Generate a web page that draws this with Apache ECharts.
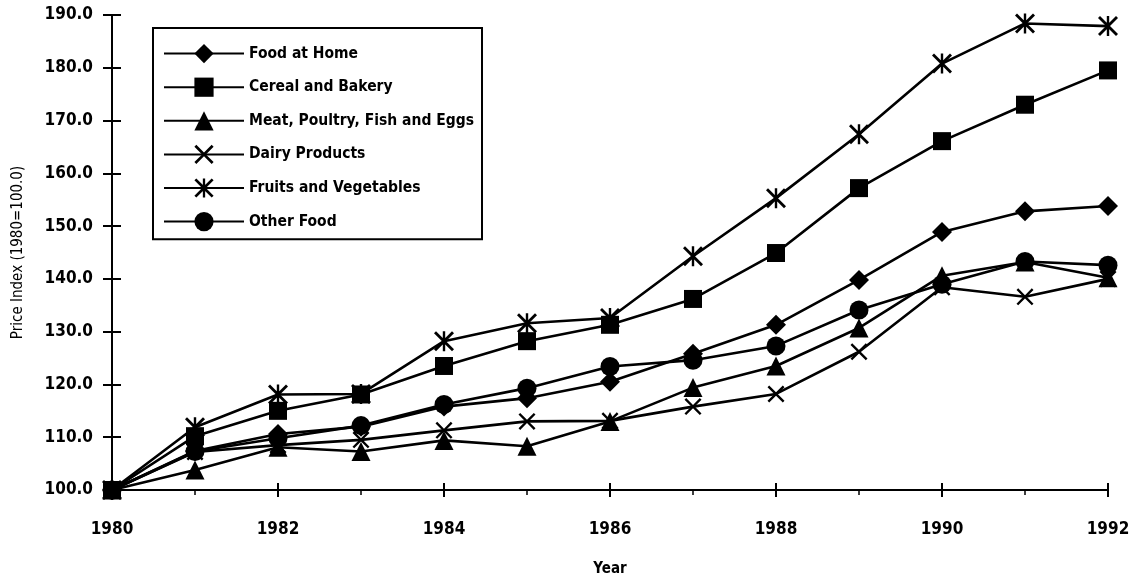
<!DOCTYPE html>
<html><head><meta charset="utf-8">
<script src="https://cdn.jsdelivr.net/npm/echarts@6/dist/echarts.min.js"></script>
<style>html,body{margin:0;padding:0;background:#fff}#c{width:1136px;height:582px}</style>
</head><body><div id="c"></div>
<script>
const years = [1980,1981,1982,1983,1984,1985,1986,1987,1988,1989,1990,1991,1992];
const seriesNames = ['Food at Home','Cereal and Bakery','Meat, Poultry, Fish and Eggs','Dairy Products','Fruits and Vegetables','Other Food'];
const foodAtHome = [100,107.4,110.6,112.0,115.8,117.4,120.5,125.8,131.3,139.8,148.9,152.8,153.8];
const cerealBakery = [100,110.2,115.0,118.1,123.5,128.2,131.3,136.2,144.9,157.2,166.1,173.0,179.5];
const meatPoultry = [100,103.8,108.1,107.3,109.4,108.3,113.0,119.4,123.5,130.7,140.6,143.2,140.2];
const dairy = [100,107.2,108.5,109.5,111.3,113.0,113.1,115.8,118.2,126.2,138.4,136.6,140.0];
const fruitsVeg = [100,111.9,118.1,118.2,128.2,131.6,132.6,144.3,155.3,167.4,180.8,188.4,187.9];
const otherFood = [100,107.3,109.8,112.2,116.2,119.3,123.4,124.6,127.3,134.1,139.0,143.3,142.6];

const FONT = "'DejaVu Sans Condensed','Liberation Sans Narrow',sans-serif";
const X_SYMBOL = 'path://M0,1L1,0L5,4L9,0L10,1L6,5L10,9L9,10L5,6L1,10L0,9L4,5Z';
const STAR_SYMBOL = 'path://M0,1L1,0L5,4L9,0L10,1L6,5L10,9L9,10L5,6L1,10L0,9L4,5Z M4.4,0L5.6,0L5.6,10L4.4,10Z';

function mk(name, vals, symbol, size) {
  return {
    name: name, type: 'line',
    data: years.map((y, i) => [y, vals[i]]),
    symbol: symbol, symbolSize: size, showSymbol: true,
    lineStyle: {color: '#000', width: 2.6},
    itemStyle: {color: '#000'},
    emphasis: {disabled: true},
    animation: false
  };
}

const chart = echarts.init(document.getElementById('c'));
const axisTextStyle = {color: '#000', fontFamily: FONT, fontWeight: 'bold', fontSize: 17};
chart.setOption({
  animation: false,
  backgroundColor: '#fff',
  grid: {left: 112, right: 28, top: 15, bottom: 90},
  legend: {
    orient: 'vertical', left: 153, top: 28,
    data: seriesNames,
    padding: [16, 8, 8, 10],
    itemWidth: 80, itemHeight: 24, itemGap: 14.4,
    borderColor: '#000', borderWidth: 2,
    textStyle: {color: '#000', fontFamily: FONT, fontWeight: 'bold', fontSize: 15.5}
  },
  xAxis: [{
    type: 'value', min: 1980, max: 1992, interval: 2,
    axisLine: {show: true, lineStyle: {color: '#000', width: 2}},
    axisTick: {show: true, length: 7, lineStyle: {color: '#000', width: 2}},
    minorTick: {show: true, splitNumber: 2, length: 5, lineStyle: {color: '#000', width: 1.5}},
    splitLine: {show: false},
    axisLabel: Object.assign({margin: 31, formatter: v => String(v)}, axisTextStyle),
    name: 'Year', nameLocation: 'middle', nameGap: 72,
    nameTextStyle: Object.assign({}, axisTextStyle, {fontSize: 15})
  }, {
    type: 'value', min: 1980, max: 1992, interval: 2, position: 'bottom',
    axisLine: {show: false},
    axisTick: {show: true, inside: true, length: 7, lineStyle: {color: '#000', width: 2}},
    axisLabel: {show: false}, splitLine: {show: false}
  }],
  yAxis: [{
    type: 'value', min: 100, max: 190, interval: 10,
    axisLine: {show: true, lineStyle: {color: '#000', width: 2}},
    axisTick: {show: true, length: 9, lineStyle: {color: '#000', width: 2}},
    splitLine: {show: false},
    axisLabel: Object.assign({margin: 19, formatter: v => v.toFixed(1)}, axisTextStyle),
    name: 'Price Index (1980=100.0)', nameLocation: 'middle', nameGap: 86,
    nameTextStyle: {color: '#000', fontFamily: FONT, fontSize: 15}
  }, {
    type: 'value', min: 100, max: 190, interval: 10, position: 'left',
    axisLine: {show: false},
    axisTick: {show: true, inside: true, length: 9, lineStyle: {color: '#000', width: 2}},
    axisLabel: {show: false}, splitLine: {show: false}
  }],
  series: [
    mk(seriesNames[0], foodAtHome, 'diamond', 20),
    mk(seriesNames[1], cerealBakery, 'rect', 18),
    mk(seriesNames[2], meatPoultry, 'triangle', 19),
    mk(seriesNames[3], dairy, X_SYMBOL, 17),
    mk(seriesNames[4], fruitsVeg, STAR_SYMBOL, 20),
    mk(seriesNames[5], otherFood, 'circle', 19)
  ]
});
</script></body></html>
